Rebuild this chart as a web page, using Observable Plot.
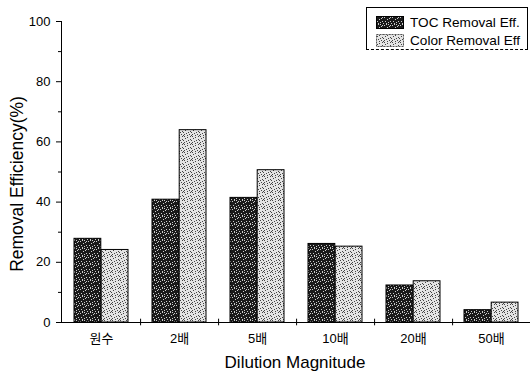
<!DOCTYPE html>
<html><head><meta charset="utf-8">
<script src="https://cdn.jsdelivr.net/npm/d3@7"></script>
<script src="https://cdn.jsdelivr.net/npm/@observablehq/plot@0.6"></script>
<style>
body{margin:0;background:#fff;}
#wrap{position:relative;width:530px;height:372px;font-family:"Liberation Sans",Arial,sans-serif;}
#legend{position:absolute;left:366px;top:7px;width:162px;height:43px;border:1px solid #000;border-bottom:1px dashed #000;background:#fff;box-sizing:border-box;font-size:13.6px;color:#000;}
.item{position:absolute;left:9px;height:16px;display:flex;align-items:center;white-space:nowrap;}
.item svg{margin-right:6px;}
</style>
</head><body>
<div id="wrap"></div>
<script>
const categories = ["원수", "2배", "5배", "10배", "20배", "50배"];
const tocValues = [27.8, 40.8, 41.4, 26.1, 12.3, 4.1];
const colorValues = [24.1, 63.9, 50.6, 25.2, 13.7, 6.6];
const seriesNames = ["TOC Removal Eff.", "Color Removal Eff"];
const yTicks = [0, 20, 40, 60, 80, 100];
const yMinorTicks = [10, 30, 50, 70, 90];

const font = '"Liberation Sans", "Noto Sans CJK KR", Arial, sans-serif';

const chart = Plot.plot({
  width: 530, height: 372,
  marginLeft: 61, marginRight: 0, marginTop: 21, marginBottom: 50,
  style: {fontFamily: font, fontSize: "13px", background: "white", color: "black"},
  x: {domain: categories, padding: 0, label: null},
  y: {domain: [0, 100], label: null},
  marks: [
    Plot.frame({anchor: "left", stroke: "black"}),
    Plot.axisY({ticks: yTicks, tickSize: 5, tickPadding: 6, label: null, fontSize: 13}),
    Plot.axisY({ticks: yMinorTicks, tickSize: 3, tickFormat: () => "", label: null}),
    Plot.axisX({tickSize: 0, tickPadding: 11, label: null, fontSize: 13}),
    Plot.barY(categories, {x: d => d, y: (d, i) => tocValues[i], fill: "url(#tocPat)", stroke: "black", strokeWidth: 1, insetLeft: 12, insetRight: 39.2}),
    Plot.barY(categories, {x: d => d, y: (d, i) => colorValues[i], fill: "url(#colPat)", stroke: "black", strokeWidth: 1, insetLeft: 39.2, insetRight: 12}),
    Plot.ruleY([0], {stroke: "black"}),
    Plot.ruleX(categories, {x: d => d, y1: -1.1, y2: 1.1, dx: 39.08, stroke: "black"}),
    Plot.text(["Removal Efficiency(%)"], {frameAnchor: "left", textAnchor: "middle", lineAnchor: "middle", rotate: -90, dx: -44, dy: 12, fontSize: 17.5}),
    Plot.text(["Dilution Magnitude"], {frameAnchor: "bottom", textAnchor: "middle", lineAnchor: "middle", dx: -1, dy: 40, fontSize: 17})
  ]
});

// texture patterns for the bars
const svg = d3.select(chart);
const defs = svg.insert("defs", ":first-child");
const toc = defs.append("pattern").attr("id", "tocPat").attr("patternUnits", "userSpaceOnUse").attr("width", 8).attr("height", 8);
toc.append("rect").attr("width", 8).attr("height", 8).attr("fill", "#1a1a1a");
[[0,1],[2,0],[3,3],[5,2],[6,5],[1,5],[4,6],[7,7],[2,7],[6,1],[4,0]].forEach(([x,y]) =>
  toc.append("rect").attr("x", x).attr("y", y).attr("width", 1).attr("height", 1).attr("fill", "#ccc"));
const col = defs.append("pattern").attr("id", "colPat").attr("patternUnits", "userSpaceOnUse").attr("width", 8).attr("height", 8);
col.append("rect").attr("width", 8).attr("height", 8).attr("fill", "#e4e4e4");
[[0,0],[1,2],[3,1],[4,4],[6,3],[5,6],[2,5],[7,7],[0,6],[6,0],[3,7],[7,4]].forEach(([x,y]) =>
  col.append("rect").attr("x", x).attr("y", y).attr("width", 1).attr("height", 1).attr("fill", "#444"));

const wrap = document.getElementById("wrap");
wrap.appendChild(chart);

const legend = document.createElement("div");
legend.id = "legend";
seriesNames.forEach((name, i) => {
  const item = document.createElement("div");
  item.className = "item";
  item.style.top = (i === 0 ? 6 : 24) + "px";
  item.innerHTML = `<svg width="28" height="13"><rect x="0.5" y="0.5" width="27" height="12" fill="${i === 0 ? "url(#tocPat)" : "url(#colPat)"}" stroke="${i === 0 ? "#000" : "#555"}" stroke-dasharray="${i === 0 ? "" : "2,1"}"/></svg><span>${name}</span>`;
  legend.appendChild(item);
});
legend.style.fontFamily = font;
wrap.appendChild(legend);
</script>
</body></html>
